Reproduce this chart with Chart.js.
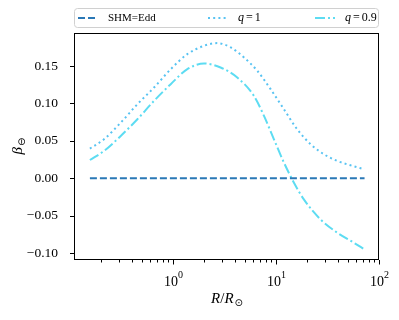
<!DOCTYPE html>
<html>
<head>
<meta charset="utf-8">
<script src="https://cdn.jsdelivr.net/npm/chart.js@4.4.1/dist/chart.umd.min.js"></script>
<style>
  html, body { margin: 0; padding: 0; background: #fff; }
</style>
</head>
<body>
<canvas id="betaChart" width="399" height="320"></canvas>
<script>
// series labels (q labels get an italic q when drawn)
const seriesLabels = ['SHM=Edd', 'q = 1', 'q = 0.9'];

// flat reference line
const rEdd = [0.157, 73.1];
const betaEdd = [0, 0];

// q = 1
const rQ1 = [0.157, 0.215, 0.313, 0.454, 0.659, 0.957, 1.388, 2.015, 2.71, 3.66,
  4.93, 6.64, 8.94, 12.05, 16.2, 21.9, 29.5, 39.7, 53.4, 73.1];
const betaQ1 = [0.0397, 0.0521, 0.0744, 0.0989, 0.1212, 0.1457, 0.1658, 0.1769, 0.1805, 0.1747,
  0.1613, 0.1435, 0.119, 0.0922, 0.0655, 0.0455, 0.0321, 0.0232, 0.0174, 0.012];

// q = 0.9
const rQ09 = [0.157, 0.215, 0.313, 0.454, 0.659, 0.957, 1.388, 2.015, 2.92, 4.24,
  6.16, 7.71, 9.63, 12.05, 15.07, 18.8, 27.3, 39.7, 57.6, 73.1];
const betaQ09 = [0.0245, 0.0365, 0.0566, 0.0789, 0.1034, 0.1257, 0.1457, 0.1533, 0.148, 0.1346,
  0.11, 0.0833, 0.0521, 0.0209, -0.0058, -0.0281, -0.0548, -0.0726, -0.086, -0.0949];

const yTickStep = 0.05;

const SERIF = '"Liberation Serif", "DejaVu Serif", serif';

const toPoints = (xs, ys) => xs.map((x, i) => ({ x: x, y: ys[i] }));

// box, tick marks, axis labels and legend, drawn matplotlib-style
const decor = {
  id: 'decor',
  afterDraw(chart) {
    const { ctx, chartArea: a, scales: { x, y } } = chart;
    ctx.save();
    ctx.strokeStyle = '#000';
    ctx.lineWidth = 1;
    ctx.strokeRect(a.left + 0.5, a.top + 0.5, a.right - a.left - 1, a.bottom - a.top - 1);

    // y ticks
    ctx.beginPath();
    y.ticks.forEach((t) => {
      const py = Math.round(y.getPixelForValue(t.value)) + 0.5;
      ctx.moveTo(a.left - 4, py);
      ctx.lineTo(a.left, py);
    });
    ctx.stroke();

    // x ticks (log, major + minor) and labels
    ctx.fillStyle = '#000';
    ctx.textBaseline = 'alphabetic';
    const e0 = Math.floor(Math.log10(x.min));
    const e1 = Math.ceil(Math.log10(x.max));
    for (let e = e0; e <= e1; e++) {
      for (let k = 1; k <= 9; k++) {
        const v = k * Math.pow(10, e);
        if (v < x.min || v > x.max * 1.0001) continue;
        const px = Math.round(x.getPixelForValue(v)) + 0.5;
        ctx.beginPath();
        ctx.moveTo(px, a.bottom);
        ctx.lineTo(px, a.bottom + (k === 1 ? 4.5 : 2.5));
        ctx.stroke();
        if (k === 1) {
          const sup = e < 0 ? '\u2212' + Math.abs(e) : String(e);
          ctx.font = '14px ' + SERIF;
          const wb = ctx.measureText('10').width;
          ctx.font = '10px ' + SERIF;
          const ws = ctx.measureText(sup).width;
          const start = px - (wb + ws) / 2;
          ctx.font = '14px ' + SERIF;
          ctx.textAlign = 'left';
          ctx.fillText('10', start, 286);
          ctx.font = '10px ' + SERIF;
          ctx.fillText(sup, start + wb, 278);
        }
      }
    }

    // x title: R/R_sun
    const cx = (a.left + a.right) / 2;
    ctx.font = 'italic 15px ' + SERIF;
    const wR = ctx.measureText('R').width;
    ctx.font = '15px ' + SERIF;
    const wS = ctx.measureText('/').width;
    ctx.font = '10px "DejaVu Sans", sans-serif';
    const wSun = ctx.measureText('\u2299').width;
    let tx = cx - (2 * wR + wS + wSun) / 2;
    ctx.font = 'italic 15px ' + SERIF;
    ctx.fillText('R', tx, 303); tx += wR;
    ctx.font = '15px ' + SERIF;
    ctx.fillText('/', tx, 303); tx += wS;
    ctx.font = 'italic 15px ' + SERIF;
    ctx.fillText('R', tx, 303); tx += wR;
    ctx.font = '10px "DejaVu Sans", sans-serif';
    ctx.fillText('\u2299', tx + 1, 306);

    // y title: beta subscript
    ctx.save();
    ctx.translate(22, (a.top + a.bottom) / 2);
    ctx.rotate(-Math.PI / 2);
    ctx.font = 'italic 15px ' + SERIF;
    const wb = ctx.measureText('\u03b2').width;
    ctx.font = '10px "DejaVu Sans", sans-serif';
    const wm = ctx.measureText('\u2296').width;
    const sx = -(wb + wm) / 2;
    ctx.font = 'italic 15px ' + SERIF;
    ctx.fillText('\u03b2', sx, 0);
    ctx.font = '10px "DejaVu Sans", sans-serif';
    ctx.fillText('\u2296', sx + wb + 1, 3);
    ctx.restore();

    // legend
    const lx = a.left, ly = 8, lw = a.right - a.left - 1, lh = 19;
    ctx.beginPath();
    ctx.roundRect(lx + 0.5, ly + 0.5, lw, lh, 3);
    ctx.fillStyle = '#fff';
    ctx.fill();
    ctx.strokeStyle = '#d0d0d0';
    ctx.stroke();
    const offsets = [4, 134, 241];
    const my = ly + lh / 2 + 0.5;
    chart.data.datasets.forEach((ds, i) => {
      const hx = lx + offsets[i];
      ctx.save();
      ctx.strokeStyle = ds.borderColor;
      ctx.lineWidth = ds.borderWidth;
      ctx.setLineDash(ds.borderDash);
      ctx.beginPath();
      ctx.moveTo(hx, my);
      ctx.lineTo(hx + 20, my);
      ctx.stroke();
      ctx.restore();
      ctx.fillStyle = '#000';
      ctx.textBaseline = 'middle';
      let tx2 = hx + 30;
      const label = ds.label;
      if (label.startsWith('q')) {
        ctx.font = 'italic 12px ' + SERIF;
        ctx.fillText('q', tx2, my);
        tx2 += ctx.measureText('q').width + 2;
        ctx.font = '12px ' + SERIF;
        const rest = label.slice(1).trim().replace(/\s+/g, '');
        ctx.fillText('=', tx2, my);
        tx2 += ctx.measureText('=').width + 2;
        ctx.fillText(rest.slice(1), tx2, my);
      } else {
        ctx.font = '11px ' + SERIF;
        ctx.fillText(label, tx2, my);
      }
    });
    ctx.restore();
  }
};

new Chart(document.getElementById('betaChart'), {
  type: 'line',
  data: {
    datasets: [
      {
        label: seriesLabels[0],
        data: toPoints(rEdd, betaEdd),
        borderColor: '#2a78b6',
        borderWidth: 2,
        borderDash: [7, 3]
      },
      {
        label: seriesLabels[1],
        data: toPoints(rQ1, betaQ1),
        borderColor: '#58c3f2',
        borderWidth: 2,
        borderDash: [2, 3.2],
        cubicInterpolationMode: 'monotone'
      },
      {
        label: seriesLabels[2],
        data: toPoints(rQ09, betaQ09),
        borderColor: '#5ddcf2',
        borderWidth: 2,
        borderDash: [10, 3, 2, 3],
        cubicInterpolationMode: 'monotone'
      }
    ]
  },
  options: {
    responsive: false,
    animation: false,
    layout: { padding: { left: 0, right: 20, top: 33, bottom: 0 } },
    elements: { point: { radius: 0 } },
    plugins: { legend: { display: false }, tooltip: { enabled: false } },
    scales: {
      x: {
        type: 'logarithmic',
        min: 0.11,
        max: 101,
        grid: { display: false },
        border: { display: false },
        ticks: { display: false },
        afterFit: (s) => { s.height = 60; }
      },
      y: {
        min: -0.109,
        max: 0.194,
        grid: { display: false },
        border: { display: false },
        ticks: {
          stepSize: yTickStep,
          includeBounds: false,
          padding: 8,
          color: '#000',
          font: { family: SERIF, size: 13.5 },
          callback: (v) => (v < -1e-9 ? '\u2212' : '') + Math.abs(v).toFixed(2)
        },
        afterFit: (s) => { s.width = 74; }
      }
    }
  },
  plugins: [decor]
});
</script>
</body>
</html>
